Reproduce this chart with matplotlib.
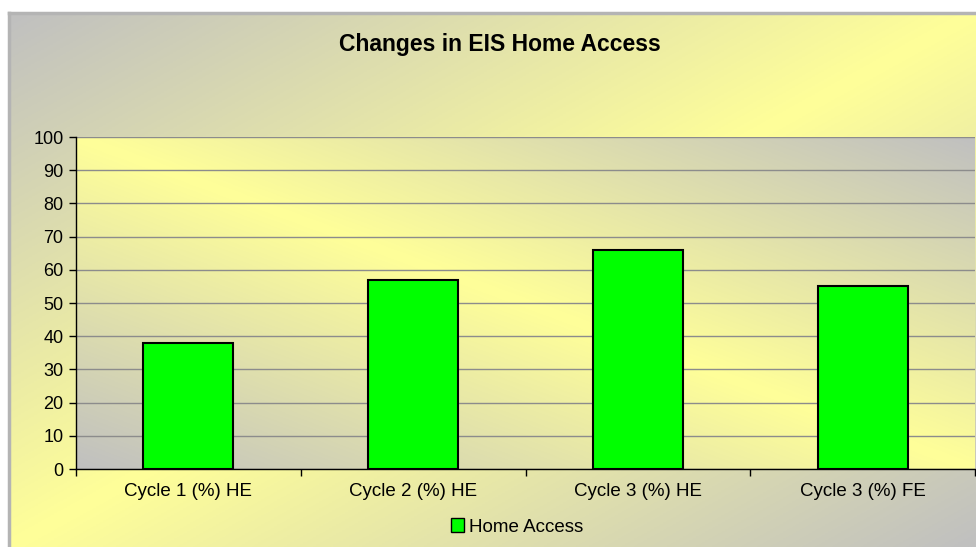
import numpy as np
import matplotlib
matplotlib.use("Agg")
import matplotlib.pyplot as plt
from matplotlib.colors import LinearSegmentedColormap
from matplotlib.patches import Patch

categories = ["Cycle 1 (%) HE", "Cycle 2 (%) HE", "Cycle 3 (%) HE", "Cycle 3 (%) FE"]
home_access = [38, 57, 66, 55]
y_ticks = [0, 10, 20, 30, 40, 50, 60, 70, 80, 90, 100]
title = "Changes in EIS Home Access"
series_name = "Home Access"

plt.rcParams['font.family'] = ['Liberation Sans', 'DejaVu Sans']

W, H = 976, 547
fig = plt.figure(figsize=(W / 100, H / 100), dpi=100)
fig.patch.set_facecolor("white")

grey = np.array([0xC0, 0xC0, 0xC0]) / 255
yellow = np.array([0xFF, 0xFF, 0x99]) / 255
cmap = LinearSegmentedColormap.from_list("gy", [grey, yellow, grey])

# chart area background (grey top-left -> yellow diagonal band -> grey bottom-right)
cx0, cy0 = 9, 13
bg = fig.add_axes([cx0 / W, 0, (W - cx0) / W, (H - cy0) / H])
bg.set_axis_off()
n = 300
xx, yy = np.meshgrid(np.linspace(0, 1, n), np.linspace(0, 1, n))  # yy: 0 = top row
t = (xx + yy) / 2
bg.imshow(t, cmap=cmap, extent=[0, 1, 0, 1], origin="upper", aspect="auto", vmin=0, vmax=1)
bg.set_xlim(0, 1)
bg.set_ylim(0, 1)
bg.plot([0, 0], [0, 1], color="#b4b4b4", lw=2.5, transform=bg.transAxes, clip_on=False)
bg.plot([0, 1], [1, 1], color="#b4b4b4", lw=2.5, transform=bg.transAxes, clip_on=False)

# plot area
px0, px1, py0, py1 = 76, 975, 137, 469
ax = fig.add_axes([px0 / W, (H - py1) / H, (px1 - px0) / W, (py1 - py0) / H])
ax.set_facecolor("none")
# plot area gradient: grey bottom-left -> yellow diagonal band -> grey top-right
t2 = (xx + (1 - yy)) / 2
ax.imshow(t2, cmap=cmap, extent=[0, 1, 0, 1], origin="upper", aspect="auto",
          vmin=0, vmax=1, transform=ax.transAxes, zorder=0)

x = np.arange(len(categories))
ax.bar(x, home_access, width=0.4, color="#00FF00", edgecolor="black", linewidth=1.5, zorder=3)
ax.set_xlim(-0.5, len(categories) - 0.5)
ax.set_ylim(0, 100)
ax.set_yticks(y_ticks)
ax.set_yticklabels([str(v) for v in y_ticks], fontsize=13)
ax.yaxis.grid(True, color="#8c8c8c", linewidth=1.0, zorder=1)
ax.set_axisbelow(True)
ax.set_xticks(np.arange(-0.5, len(categories) + 0.5, 1.0))
ax.set_xticklabels([])
ax.set_xticks(x, minor=True)
ax.set_xticklabels(categories, minor=True, fontsize=13.5)
ax.tick_params(axis="x", which="minor", length=0, pad=10)
ax.tick_params(axis="x", which="major", length=5, width=1, direction="out")
ax.tick_params(axis="y", length=5, width=1, direction="out", pad=4)
for s in ["top", "right"]:
    ax.spines[s].set_visible(False)
for s in ["left", "bottom"]:
    ax.spines[s].set_color("black")
    ax.spines[s].set_linewidth(1.0)

fig.text(500 / W, 1 - 44 / H, title, ha="center", va="center", fontsize=16.5, fontweight="bold")

handle = Patch(facecolor="#00FF00", edgecolor="black", linewidth=1.0)
fig.legend([handle], [series_name], loc="center", bbox_to_anchor=(517 / W, 1 - 527 / H),
           frameon=False, fontsize=13.5, handlelength=0.7, handleheight=0.7, handletextpad=0.3)

fig.savefig("out.png", dpi=100)
